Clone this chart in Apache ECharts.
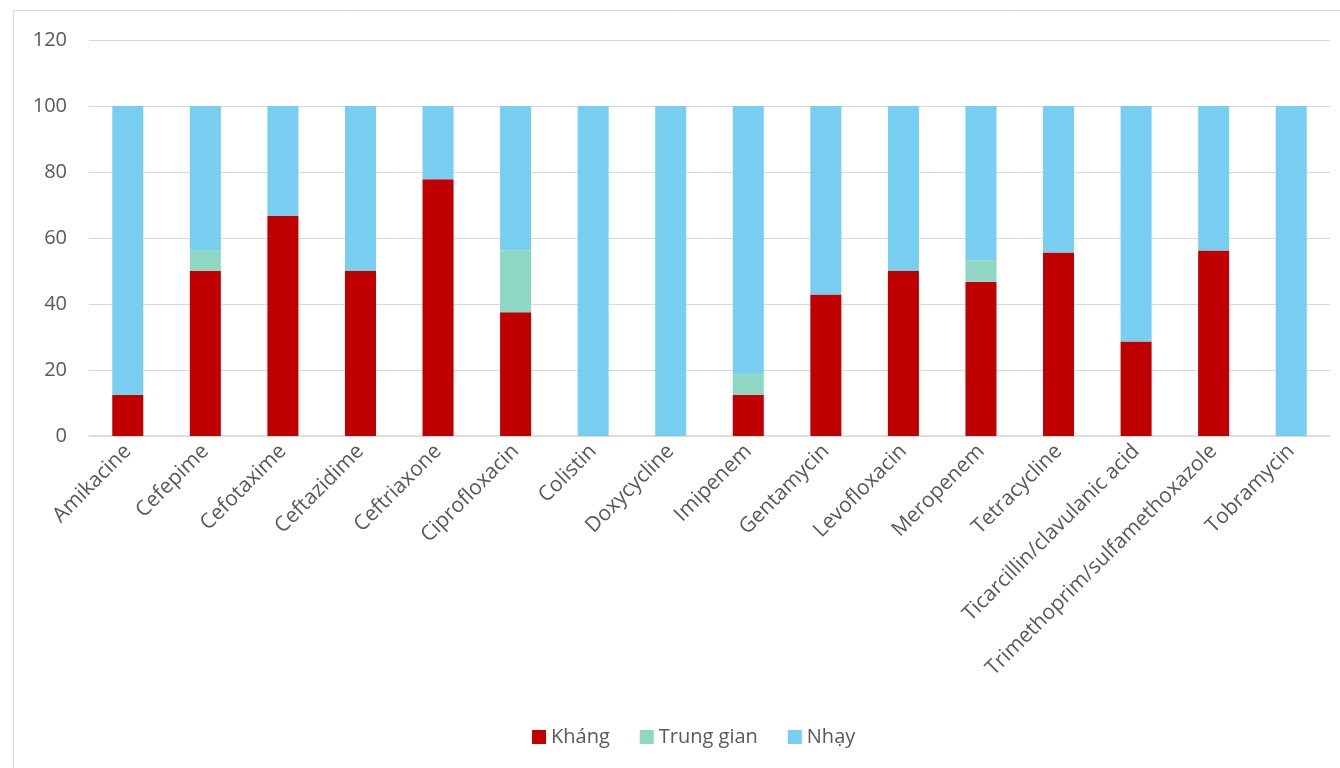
<!DOCTYPE html>
<html>
<head>
<meta charset="utf-8">
<script src="https://cdn.jsdelivr.net/npm/echarts@6/dist/echarts.min.js"></script>
<style>html,body{margin:0;padding:0;background:#fff}#c{width:1340px;height:768px}</style>
</head>
<body>
<div id="c"></div>
<script>
const categories = ["Amikacine","Cefepime","Cefotaxime","Ceftazidime","Ceftriaxone","Ciprofloxacin","Colistin","Doxycycline","Imipenem","Gentamycin","Levofloxacin","Meropenem","Tetracycline","Ticarcillin/clavulanic acid","Trimethoprim/sulfamethoxazole","Tobramycin"];
const khang = [12.5,50,66.7,50,77.8,37.5,0,0,12.5,42.9,50,46.7,55.6,28.6,56.25,0];
const trungGian = [0,6.25,0,0,0,18.75,0,0,6.25,0,0,6.6,0,0,0,0];
const nhay = [87.5,43.75,33.3,50,22.2,43.75,100,100,81.25,57.1,50,46.7,44.4,71.4,43.75,100];
const yTicks = [0,20,40,60,80,100,120];
const seriesNames = ["Kháng","Trung gian","Nhạy"];

const font = "'Open Sans', 'Noto Sans', sans-serif";
const chart = echarts.init(document.getElementById('c'), null, {renderer:'canvas'});
const mk = (name, data, color) => ({
  name, type:'bar', stack:'s', data, barWidth:'40%',
  itemStyle:{color}, emphasis:{disabled:true}
});
chart.setOption({
  animation:false,
  graphic:[{type:'rect', shape:{x:13.5,y:10.5,width:1400,height:1000}, style:{fill:'none', stroke:'#d9d9d9', lineWidth:1}, silent:true}],
  grid:{left:89, right:10, top:40, bottom:332},
  legend:{
    top:722, left:527, itemWidth:14, itemHeight:14, itemGap:30,
    icon:'rect',
    textStyle:{fontFamily:font, fontSize:20, color:'#595959'},
    data:seriesNames
  },
  xAxis:{
    type:'category', data:categories,
    axisLine:{lineStyle:{color:'#d9d9d9', width:1.5}},
    axisTick:{show:false},
    axisLabel:{rotate:45, interval:0, margin:12, fontFamily:font, fontSize:21, color:'#595959'}
  },
  yAxis:{
    type:'value', min:yTicks[0], max:yTicks[yTicks.length-1], interval:20,
    axisLine:{show:false}, axisTick:{show:false},
    splitLine:{lineStyle:{color:'#d9d9d9', width:1}},
    axisLabel:{margin:22, fontFamily:font, fontSize:20, color:'#595959'}
  },
  series:[
    mk(seriesNames[0], khang, '#C00000'),
    mk(seriesNames[1], trungGian, '#8FD7C2'),
    mk(seriesNames[2], nhay, '#78CEF0')
  ]
});
</script>
</body>
</html>
